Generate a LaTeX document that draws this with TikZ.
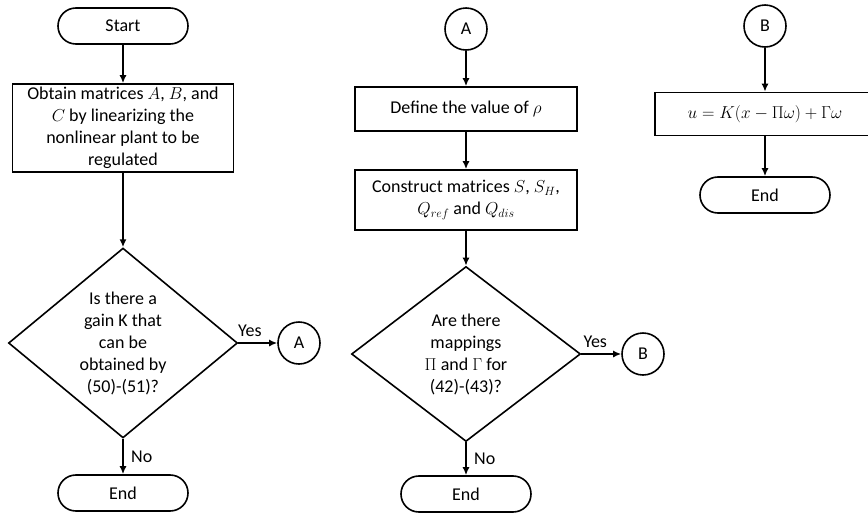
\documentclass[tikz,border=0pt]{standalone}
\usepackage{amsmath}
\usepackage{fontspec}
\setmainfont{Carlito}
\usetikzlibrary{shapes.geometric,arrows.meta}

\begin{document}
\begin{tikzpicture}[x=1pt, y=1pt, auto,
    every node/.style={font=\fontsize{18}{22}\selectfont},
    terminal/.style={rectangle, draw, line width=1.6pt, minimum width=130pt, minimum height=36pt, rounded corners=17.9pt},
    process/.style={rectangle, draw, line width=1.6pt, align=center, inner sep=2pt},
    decision/.style={diamond, draw, line width=1.6pt, align=center, inner sep=0pt},
    connector/.style={circle, draw, line width=1.6pt, minimum size=42pt, inner sep=0pt},
    line/.style={draw, line width=1.6pt, -{Latex[length=8pt,width=7pt]}}]
    \useasboundingbox (0,0) rectangle (868,-515);
    % Left column
    \node [terminal] at (123,-26) (start) {Start};
    \node [process, minimum width=221pt, minimum height=88pt, below of=start, node distance=102pt] (obtain) {Obtain matrices $A$, $B$, and\\ $C$ by linearizing the\\ nonlinear plant to be\\ regulated};
    \node [decision, minimum width=229pt, minimum height=182pt, below of=obtain, node distance=215pt] (gain) {Is there a\\ gain K that\\ can be\\ obtained by\\ (50)-(51)?};
    \node [terminal, below of=gain, node distance=150pt] (endA) {End};
    \node [connector, right of=gain, node distance=176pt] (toA) {A};

    % Middle column
    \node [connector] at (466,-29) (fromA) {A};
    \node [process, minimum width=222pt, minimum height=44pt, below of=fromA, node distance=80pt] (rho) {Define the value of $\rho$};
    \node [process, minimum width=222pt, minimum height=60pt, below of=rho, node distance=91pt] (build) {Construct matrices $S$, $S_H$,\\ $Q_{ref}$ and $Q_{dis}$};
    \node [decision, minimum width=229pt, minimum height=175pt, below of=build, node distance=154pt] (maps) {Are there\\ mappings\\ $\Pi$ and $\Gamma$ for\\ (42)-(43)?};
    \node [terminal, below of=maps, node distance=140pt] (endB) {End};
    \node [connector, right of=maps, node distance=177pt] (toB) {B};

    % Right column
    \node [connector] at (765,-26) (fromB) {B};
    \node [process, minimum width=220pt, minimum height=43pt, below of=fromB, node distance=88pt] (law) {$u = K(x-\Pi\omega)+\Gamma\omega$};
    \node [terminal, below of=law, node distance=81pt] (endC) {End};

    % Draw edges
    \path [line] (start) -- (obtain);
    \path [line] (obtain) -- (gain);
    \path [line] (gain) -- node [above, pos=0.3, yshift=2pt] {Yes} (toA);
    \path [line] (gain) -- node [right, xshift=4pt] {No} (endA);
    \path [line] (fromA) -- (rho);
    \path [line] (rho) -- (build);
    \path [line] (build) -- (maps);
    \path [line] (maps) -- node [above, pos=0.35, yshift=2pt] {Yes} (toB);
    \path [line] (maps) -- node [right, xshift=4pt] {No} (endB);
    \path [line] (fromB) -- (law);
    \path [line] (law) -- (endC);
\end{tikzpicture}
\end{document}
